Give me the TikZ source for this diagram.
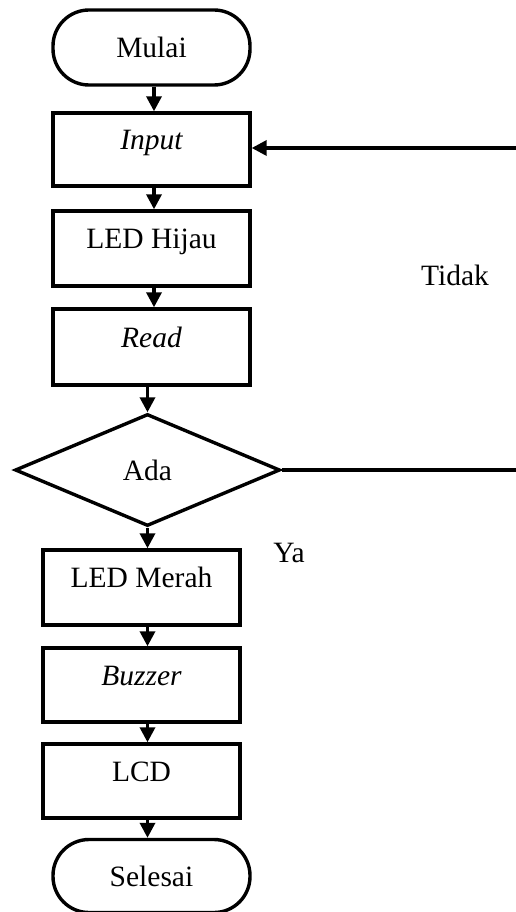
\documentclass[tikz,border=0pt]{standalone}
\usepackage{fontspec}
\setmainfont{Liberation Serif}
\usetikzlibrary{shapes.geometric,arrows.meta}
\begin{document}
\begin{tikzpicture}[x=1pt,y=-1pt,
  every node/.style={font=\fontsize{29.5}{34}\selectfont},
  base/.style={draw,line width=3.4pt,inner sep=0pt},
  term/.style={base,rounded corners=36pt,minimum width=197pt},
  proc/.style={base,minimum width=197pt,text height=20pt,text depth=20pt},
  dec/.style={base,diamond,minimum width=265pt,minimum height=112pt},
  arr/.style={line width=3.4pt,-{Triangle[length=15pt,width=15pt]}},
  lbl/.style={anchor=base}]
\useasboundingbox (0,0) rectangle (516,912);
\node[term,minimum height=75pt] (mulai) at (151.5,47.5) {Mulai};
\node[proc,minimum height=73pt] (input) at (151.5,149.5) {\itshape Input};
\node[proc,minimum height=75pt] (hijau) at (151.5,248.5) {LED Hijau};
\node[proc,minimum height=76pt] (read) at (151.5,347) {\itshape Read};
\node[dec] (ada) at (147.5,470) {Ada};
\node[proc,minimum height=75pt] (merah) at (141.5,587.5) {LED Merah};
\node[proc,minimum height=74pt] (buzzer) at (141.5,685) {\itshape Buzzer};
\node[proc,minimum height=74pt] (lcd) at (141.5,781) {LCD};
\node[term,minimum height=73pt] (selesai) at (151.5,876) {Selesai};
\node[lbl] (tidak) at (455,285) {Tidak};
\node[lbl] (ya) at (289,562) {Ya};
\draw[arr] ([xshift=2.5pt]mulai.south) -- ([xshift=2.5pt]input.north);
\draw[arr] ([xshift=2.5pt]input.south) -- ([xshift=2.5pt]hijau.north);
\draw[arr] ([xshift=2.5pt]hijau.south) -- ([xshift=2.5pt]read.north);
\draw[arr] (read.south -| ada.north) -- (ada.north);
\draw[arr] (ada.south) -- (ada.south |- merah.north);
\draw[arr] (merah.south -| ada.south) -- (buzzer.north -| ada.south);
\draw[arr] (buzzer.south -| ada.south) -- (lcd.north -| ada.south);
\draw[arr] (lcd.south -| ada.south) -- (selesai.north -| ada.south);
\coordinate (inR) at (518,148);
\draw[arr] (inR) -- (inR -| input.east);
\coordinate (adaR) at (518,470);
\draw[line width=3.4pt] (ada.east) -- (adaR);
\end{tikzpicture}
\end{document}
